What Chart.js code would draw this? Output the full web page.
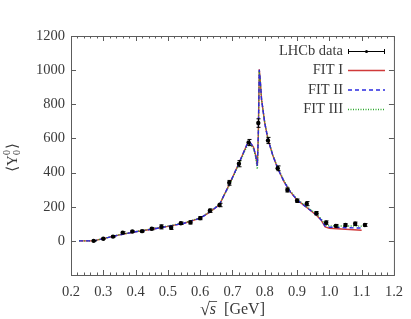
<!DOCTYPE html>
<html>
<head>
<meta charset="utf-8">
<script src="https://cdn.jsdelivr.net/npm/chart.js@4.4.1/dist/chart.umd.min.js"></script>
<style>
  html, body { margin: 0; padding: 0; background: #fff; }
  #wrap { width: 411px; height: 319px; }
</style>
</head>
<body>
<div id="wrap"><canvas id="y00Chart" width="411" height="319"></canvas></div>
<script>
// LHCb points: sqrt(s) [GeV], <Y00>, error
const dataX   = [0.27, 0.30, 0.33, 0.36, 0.39, 0.42, 0.45, 0.48, 0.51, 0.54, 0.57, 0.60, 0.63, 0.66, 0.69,
                 0.72, 0.75, 0.78, 0.81, 0.84, 0.87, 0.90, 0.93, 0.96, 0.99, 1.02, 1.05, 1.08, 1.11];
const dataY   = [0, 12, 25, 48, 55, 57, 71, 82, 77, 103, 108, 133, 177, 210, 340,
                 452, 576, 690, 588, 425, 298, 235, 218, 162, 107, 88, 93, 100, 93];
const dataErr = [2, 3, 4, 5, 5, 5, 6, 12, 10, 7, 9, 9, 10, 10, 14,
                 18, 18, 25, 18, 14, 12, 10, 12, 10, 10, 8, 8, 10, 8];

// fit curves
const fitX = [0.225, 0.27, 0.30, 0.35, 0.40, 0.45, 0.50, 0.55, 0.60, 0.63, 0.66, 0.69, 0.72, 0.745, 0.755,
              0.765, 0.772, 0.777, 0.780, 0.783, 0.786, 0.79, 0.80, 0.81, 0.825, 0.84, 0.86, 0.88, 0.90,
              0.93, 0.96, 0.975, 0.987, 1.0, 1.05, 1.1];
const fit1 = [0, 0, 13, 35, 53, 68, 85, 103, 133, 168, 213, 330, 455, 565, 575,
              550, 500, 440, 620, 1005, 940, 830, 690, 595, 500, 425, 345, 285, 240,
              195, 150, 120, 82, 74, 68, 62];
const fit2 = [0, 0, 13, 35, 53, 68, 85, 103, 133, 168, 213, 330, 455, 565, 575,
              550, 500, 440, 620, 1002, 940, 830, 690, 595, 500, 425, 345, 285, 240,
              195, 152, 122, 86, 80, 77, 75];
const fit3 = [0, 0, 14, 36, 54, 70, 87, 105, 135, 170, 215, 325, 448, 555, 565,
              540, 490, 420, 600, 995, 935, 828, 692, 598, 503, 428, 350, 290, 244,
              200, 157, 128, 92, 88, 87, 86];

const xTicks = [0.2, 0.3, 0.4, 0.5, 0.6, 0.7, 0.8, 0.9, 1.0, 1.1, 1.2];
const yTicks = [-200, 0, 200, 400, 600, 800, 1000, 1200];

const legendRows = ['LHCb data', 'FIT I', 'FIT II', 'FIT III'];

const serif = '"Liberation Serif", "DejaVu Serif", serif';
const textColor = '#3a3a3a';
const axisColor = '#5c5c5c';
const red = '#d03a3a', blue = '#2a2ae0', green = '#2aa82a';

const pts = (xs, ys) => xs.map((x, i) => ({ x: x, y: ys[i] }));

const errorBars = {
  id: 'errorBars',
  afterDatasetsDraw(chart) {
    const ctx = chart.ctx, xs = chart.scales.x, ys = chart.scales.y;
    ctx.save();
    ctx.strokeStyle = '#000';
    ctx.lineWidth = 1;
    ctx.beginPath();
    dataX.forEach((x, i) => {
      const px = Math.round(xs.getPixelForValue(x)) + 0.5;
      const top = ys.getPixelForValue(dataY[i] + dataErr[i]);
      const bot = ys.getPixelForValue(dataY[i] - dataErr[i]);
      ctx.moveTo(px, top); ctx.lineTo(px, bot);
      ctx.moveTo(px - 2, top); ctx.lineTo(px + 2, top);
      ctx.moveTo(px - 2, bot); ctx.lineTo(px + 2, bot);
    });
    ctx.stroke();
    ctx.restore();
  }
};

const frame = {
  id: 'frame',
  afterDraw(chart) {
    const { ctx, chartArea: a, scales: { x, y } } = chart;
    ctx.save();
    ctx.strokeStyle = axisColor;
    ctx.lineWidth = 1;
    ctx.strokeRect(a.left + 0.5, a.top + 0.5, a.right - a.left, a.bottom - a.top);

    // inward ticks, minor every 0.02 on x
    ctx.beginPath();
    for (let i = 0; i <= 50; i++) {
      const px = Math.round(x.getPixelForValue(0.2 + i * 0.02)) + 0.5;
      const len = i % 5 === 0 ? 5 : 2.5;
      ctx.moveTo(px, a.bottom); ctx.lineTo(px, a.bottom - len);
      ctx.moveTo(px, a.top); ctx.lineTo(px, a.top + len);
    }
    yTicks.forEach(v => {
      const py = Math.round(y.getPixelForValue(v)) + 0.5;
      ctx.moveTo(a.left, py); ctx.lineTo(a.left + 5, py);
      ctx.moveTo(a.right, py); ctx.lineTo(a.right - 5, py);
    });
    ctx.stroke();

    // legend
    ctx.font = '14.5px ' + serif;
    ctx.fillStyle = textColor;
    ctx.textAlign = 'right';
    ctx.textBaseline = 'middle';
    const lx0 = 348, lx1 = 385;
    legendRows.forEach((label, i) => {
      const ly = 51 + i * 19.5;
      ctx.fillText(label, 343, ly);
      ctx.beginPath();
      ctx.setLineDash([]);
      if (i === 0) {
        ctx.strokeStyle = '#000';
        ctx.lineWidth = 1;
        ctx.moveTo(lx0, ly + 0.5); ctx.lineTo(lx1, ly + 0.5);
        ctx.moveTo(lx0 + 0.5, ly - 2); ctx.lineTo(lx0 + 0.5, ly + 3);
        ctx.moveTo(lx1 - 0.5, ly - 2); ctx.lineTo(lx1 - 0.5, ly + 3);
        ctx.stroke();
        ctx.beginPath();
        ctx.fillStyle = '#000';
        ctx.arc((lx0 + lx1) / 2, ly + 0.5, 1.5, 0, Math.PI * 2);
        ctx.fill();
        ctx.fillStyle = textColor;
      } else {
        ctx.lineWidth = 1.5;
        ctx.strokeStyle = [red, blue, green][i - 1];
        if (i === 2) ctx.setLineDash([4, 3]);
        if (i === 3) ctx.setLineDash([1, 1.5]);
        ctx.moveTo(lx0, ly); ctx.lineTo(lx1, ly);
        ctx.stroke();
      }
    });
    ctx.setLineDash([]);

    // x axis title: sqrt(s) [GeV]
    ctx.textAlign = 'left';
    ctx.textBaseline = 'alphabetic';
    ctx.fillStyle = textColor;
    const base = 314;
    const fRoot = '18px ' + serif, fIt = 'italic 16px ' + serif, fTxt = '16px ' + serif;
    ctx.font = fRoot; const wRoot = ctx.measureText('√').width;
    ctx.font = fIt; const wS = ctx.measureText('s').width;
    ctx.font = fTxt; const wRest = ctx.measureText('  [GeV]').width;
    let tx = (a.left + a.right) / 2 - (wRoot + wS + wRest) / 2;
    ctx.font = fRoot; ctx.fillText('√', tx, base + 1);
    ctx.strokeStyle = textColor; ctx.lineWidth = 0.8;
    ctx.beginPath();
    ctx.moveTo(tx + wRoot - 0.8, base - 12.5); ctx.lineTo(tx + wRoot + wS + 1, base - 12.5);
    ctx.stroke();
    tx += wRoot;
    ctx.font = fIt; ctx.fillText('s', tx, base);
    tx += wS;
    ctx.font = fTxt; ctx.fillText('  [GeV]', tx, base);

    // y axis title: <Y_0^0>
    ctx.save();
    ctx.translate(17, (a.top + a.bottom) / 2 + 2);
    ctx.rotate(-Math.PI / 2);
    ctx.font = '15px ' + serif;
    const wL = ctx.measureText('⟨').width, wY = ctx.measureText('Y').width, wR = ctx.measureText('⟩').width;
    ctx.font = '10px ' + serif;
    const w0 = ctx.measureText('0').width;
    let ty = -(wL + wY + w0 + wR + 1) / 2;
    ctx.font = '15px ' + serif;
    ctx.fillText('⟨', ty, 0); ty += wL;
    ctx.fillText('Y', ty, 0); ty += wY;
    ctx.font = '10px ' + serif;
    ctx.fillText('0', ty, -7);
    ctx.fillText('0', ty, 3);
    ty += w0 + 1;
    ctx.font = '15px ' + serif;
    ctx.fillText('⟩', ty, 0);
    ctx.restore();

    ctx.restore();
  }
};

new Chart(document.getElementById('y00Chart'), {
  type: 'scatter',
  data: {
    datasets: [
      { label: 'LHCb data', data: pts(dataX, dataY), pointRadius: 2.2, pointBackgroundColor: '#000',
        pointBorderColor: '#000', pointBorderWidth: 0, showLine: false, order: 0 },
      { label: 'FIT II', data: pts(fitX, fit2), showLine: true, pointRadius: 0, borderColor: blue,
        borderWidth: 1.4, borderDash: [4, 3], tension: 0, order: 1 },
      { label: 'FIT III', data: pts(fitX, fit3), showLine: true, pointRadius: 0, borderColor: green,
        borderWidth: 1.4, borderDash: [1, 1.5], tension: 0, order: 2 },
      { label: 'FIT I', data: pts(fitX, fit1), showLine: true, pointRadius: 0, borderColor: red,
        borderWidth: 1.4, tension: 0, order: 3 }
    ]
  },
  options: {
    responsive: false,
    animation: false,
    layout: { padding: { left: 0, right: 11, top: 36, bottom: 0 } },
    plugins: { legend: { display: false }, tooltip: { enabled: false } },
    scales: {
      x: {
        type: 'linear', min: 0.2, max: 1.2,
        grid: { display: false, drawTicks: false }, border: { display: false },
        afterBuildTicks: s => { s.ticks = xTicks.map(v => ({ value: v })); },
        afterFit: s => { s.height = 44; },
        ticks: { color: textColor, padding: 8, font: { family: serif, size: 14.5 },
                 maxRotation: 0, autoSkip: false, callback: v => Number(v).toFixed(1) }
      },
      y: {
        type: 'linear', min: -200, max: 1200,
        grid: { display: false, drawTicks: false }, border: { display: false },
        afterBuildTicks: s => { s.ticks = yTicks.map(v => ({ value: v })); },
        afterFit: s => { s.width = 71; },
        ticks: { color: textColor, padding: 6, font: { family: serif, size: 14.5 },
                 callback: v => (v === -200 ? '' : v) }
      }
    }
  },
  plugins: [errorBars, frame]
});
</script>
</body>
</html>
